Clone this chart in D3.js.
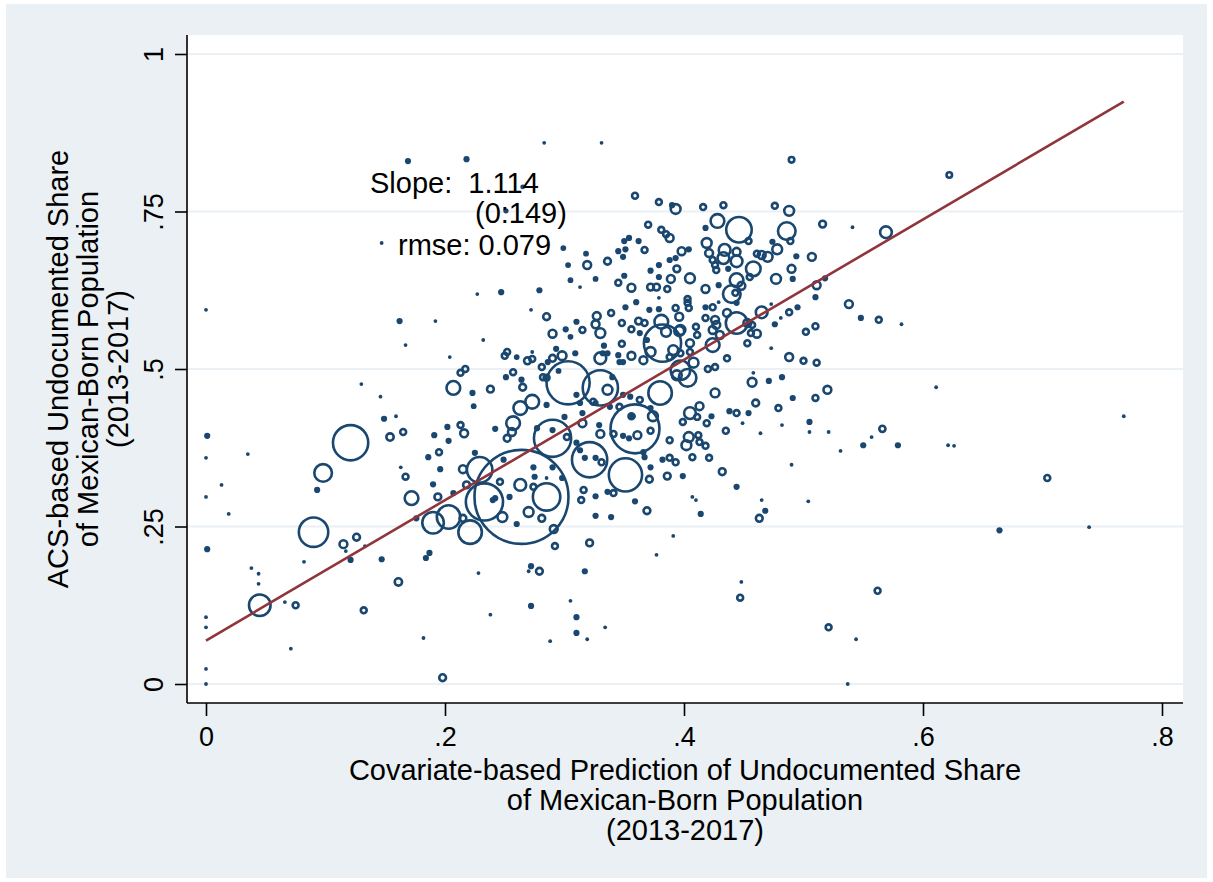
<!DOCTYPE html>
<html>
<head>
<meta charset="utf-8">
<script src="https://cdn.jsdelivr.net/npm/d3@7/dist/d3.min.js"></script>
<style>
  html, body { margin: 0; padding: 0; background: #ffffff; }
  svg { display: block; }
  text { font-family: "Liberation Sans", Arial, Helvetica, sans-serif; fill: #000; }
</style>
</head>
<body>
<svg id="chart" width="1213" height="882"></svg>
<script>
// Axis ticks and titles
const xTicks = [0, 0.2, 0.4, 0.6, 0.8];
const xTickLabels = ["0", ".2", ".4", ".6", ".8"];
const yTicks = [0, 0.25, 0.5, 0.75, 1];
const yTickLabels = ["0", ".25", ".5", ".75", "1"];
const xTitle = ["Covariate-based Prediction of Undocumented Share", "of Mexican-Born Population", "(2013-2017)"];
const yTitle = ["ACS-based Undocumented Share", "of Mexican-Born Population", "(2013-2017)"];

// Weighted least-squares fit
const fitIntercept = 0.069;
const fitSlope = 1.114;
const fitRange = [0, 0.768];
const fitNotes = ["Slope:  1.114", "(0:149)", "rmse: 0.079"];

// Commuting zones: [predicted share, ACS share, Mexican-born population weight]
const lowTail = [
  [0.000,0.594,1.5],[0.001,0.394,6],[0.000,0.359,1.5],[0.035,0.365,1.5],[0.013,0.316,1.5],
  [0.000,0.297,1.5],[0.019,0.270,1.5],[0.001,0.214,6],[0.038,0.184,1.5],[0.044,0.175,1.5],
  [0.044,0.159,1.5],[0.000,0.106,1.5],[0.000,0.090,1.5],[0.071,0.056,1.5],[0.000,0.024,1.5],
  [0.000,0.000,1.5],[0.045,0.125,121],[0.066,0.130,1.5],[0.075,0.125,9],[0.132,0.117,9],
  [0.121,0.383,324],[0.098,0.335,81],[0.093,0.308,6],[0.090,0.241,225],[0.115,0.222,16],
  [0.126,0.233,12],[0.133,0.219,1.5],[0.117,0.211,1.5],[0.121,0.197,6],[0.082,0.194,1.5],
  [0.130,0.476,1.5],[0.146,0.456,1.5],[0.147,0.700,1.5],[0.167,0.538,1.5],[0.162,0.576,6]
];

const topScatter = [
  [0.169,0.830,6],[0.218,0.833,6],[0.283,0.859,1.5],[0.331,0.859,1.5],[0.265,0.789,3],
  [0.251,0.751,4],[0.490,0.832,8],[0.622,0.808,8],[0.299,0.692,5],[0.318,0.683,5],
  [0.319,0.665,16],[0.303,0.665,5],[0.326,0.643,5],[0.305,0.641,5],[0.313,0.630,1.5],
  [0.279,0.625,6],[0.247,0.622,6],[0.227,0.619,1.5],[0.272,0.594,1.5],[0.285,0.583,12],
  [0.310,0.575,6],[0.327,0.584,16],[0.192,0.576,1.5],[0.301,0.563,6],[0.315,0.562,9],
  [0.290,0.556,16],[0.305,0.551,5],[0.232,0.546,1.5],[0.293,0.532,6],[0.309,0.525,6],
  [0.330,0.517,36],[0.252,0.527,9],[0.250,0.521,9],[0.260,0.519,5],[0.273,0.527,1.5],
  [0.269,0.513,12],[0.273,0.516,9],[0.298,0.521,20],[0.290,0.517,12],[0.286,0.511,6],
  [0.204,0.519,1.5],[0.281,0.503,9],[0.295,0.497,5],[0.257,0.495,9],[0.264,0.483,6],
  [0.265,0.471,12],[0.282,0.487,9],[0.285,0.486,9],[0.217,0.500,9],[0.213,0.494,9],
  [0.251,0.487,6],[0.207,0.470,49],[0.238,0.468,12],[0.223,0.462,6],[0.224,0.441,5]
];

const midCluster = [
  [0.273,0.448,49],[0.263,0.438,49],[0.257,0.414,49],[0.256,0.400,16],[0.252,0.390,12],
  [0.285,0.443,6],[0.300,0.424,6],[0.310,0.459,6],[0.313,0.446,6],[0.315,0.430,6],
  [0.315,0.414,16],[0.277,0.406,6],[0.149,0.421,6],[0.159,0.425,1.5],[0.165,0.400,9],
  [0.154,0.392,14],[0.191,0.395,6],[0.202,0.408,6],[0.203,0.386,6],[0.213,0.411,9],
  [0.216,0.398,16],[0.242,0.405,6],[0.195,0.368,9],[0.186,0.360,6],[0.196,0.341,6],
  [0.215,0.341,16],[0.225,0.367,6],[0.163,0.344,1.5],[0.167,0.329,9],[0.190,0.317,6],
  [0.172,0.295,49],[0.194,0.297,12],[0.207,0.303,6],[0.218,0.316,12],[0.229,0.340,169],
  [0.246,0.321,9],[0.249,0.356,6],[0.263,0.316,36],[0.274,0.313,9],[0.275,0.329,6],
  [0.274,0.344,6],[0.285,0.327,1.5],[0.298,0.327,6],[0.290,0.344,6],[0.242,0.295,6],
  [0.240,0.292,6],[0.254,0.297,6],[0.248,0.265,25],[0.260,0.254,6],[0.270,0.273,25],
  [0.281,0.263,12],[0.291,0.246,16],[0.292,0.219,9],[0.314,0.292,9],[0.316,0.308,9],
  [0.215,0.263,12],[0.221,0.241,144],[0.190,0.256,121],[0.203,0.265,144],[0.176,0.263,6],
  [0.184,0.200,6],[0.187,0.208,6],[0.147,0.198,6],[0.272,0.187,6],[0.279,0.179,12],
  [0.270,0.179,1.5],[0.233,0.289,361],[0.264,0.297,2304],[0.285,0.297,196],[0.290,0.390,361],
  [0.321,0.356,324],[0.351,0.332,289],[0.359,0.405,625],[0.303,0.478,484],[0.330,0.470,324],
  [0.290,0.403,6],[0.302,0.392,9],[0.321,0.224,12],[0.317,0.179,6]
];

const lowerScatter = [
  [0.198,0.010,12],[0.182,0.073,1.5],[0.161,0.162,14],[0.228,0.176,1.5],[0.238,0.110,1.5],
  [0.272,0.124,6],[0.305,0.132,1.5],[0.310,0.106,6],[0.310,0.081,6],[0.319,0.071,1.5],
  [0.288,0.068,1.5],[0.334,0.090,1.5],[0.448,0.162,1.5],[0.447,0.137,9],[0.562,0.148,9],
  [0.521,0.090,9],[0.544,0.071,1.5],[0.537,0.000,1.5],[0.391,0.235,1.5],[0.377,0.205,1.5]
];

const rightTail = [
  [0.704,0.327,9],[0.664,0.244,6],[0.739,0.249,1.5],[0.768,0.425,1.5],[0.621,0.379,1.5],
  [0.626,0.378,1.5],[0.579,0.379,6],[0.566,0.405,10],[0.557,0.392,1.5],[0.550,0.379,6],
  [0.531,0.370,1.5],[0.521,0.400,1.5],[0.505,0.416,6],[0.505,0.400,1.5],[0.482,0.411,1.5],
  [0.464,0.398,1.5],[0.449,0.414,1.5],[0.490,0.348,1.5],[0.504,0.290,1.5],[0.465,0.292,1.5],
  [0.468,0.275,6],[0.463,0.263,12],[0.611,0.471,1.5],[0.582,0.571,1.5],[0.563,0.578,9],
  [0.548,0.581,6],[0.538,0.603,16],[0.516,0.730,12],[0.541,0.725,1.5],[0.569,0.717,36],
  [0.520,0.467,16],[0.510,0.454,9],[0.491,0.454,6],[0.479,0.438,9],[0.460,0.446,12],
  [0.457,0.479,20],[0.471,0.481,6],[0.482,0.487,6],[0.458,0.494,1.5],[0.454,0.430,6],
  [0.444,0.430,9],[0.438,0.433,6],[0.435,0.402,9],[0.444,0.313,6],[0.407,0.297,1.5],
  [0.410,0.292,1.5],[0.414,0.270,6],[0.369,0.275,12],[0.359,0.290,6],[0.339,0.265,6],
  [0.326,0.267,6],[0.326,0.298,6],[0.336,0.305,6],[0.341,0.303,9]
];

const coreLower = [
  [0.380,0.462,144],[0.405,0.430,36],[0.413,0.441,16],[0.411,0.424,9],[0.419,0.414,9],
  [0.423,0.425,6],[0.426,0.462,20],[0.399,0.416,9],[0.404,0.392,25],[0.402,0.379,25],
  [0.412,0.395,9],[0.413,0.384,9],[0.418,0.378,9],[0.407,0.360,9],[0.421,0.359,9],
  [0.388,0.387,9],[0.382,0.356,6],[0.388,0.359,9],[0.393,0.352,9],[0.372,0.344,6],
  [0.386,0.330,12],[0.399,0.330,6],[0.371,0.325,12],[0.432,0.337,12],[0.397,0.498,100],
  [0.403,0.486,81],[0.394,0.490,25],[0.374,0.425,25],[0.372,0.438,6],[0.356,0.425,9],
  [0.363,0.451,9],[0.355,0.456,6],[0.349,0.459,6],[0.338,0.440,6],[0.346,0.440,9],
  [0.340,0.487,6],[0.336,0.467,25],[0.324,0.448,9],[0.349,0.394,6],[0.354,0.390,6],
  [0.361,0.395,16],[0.357,0.425,6],[0.372,0.402,9],[0.366,0.368,6],[0.367,0.360,6],
  [0.341,0.397,9],[0.330,0.397,16],[0.326,0.446,6],[0.329,0.411,6],[0.331,0.352,9],
  [0.326,0.359,6],[0.317,0.359,6],[0.310,0.383,6],[0.313,0.371,6]
];

const coreUpper = [
  [0.436,0.517,9],[0.426,0.503,9],[0.420,0.500,9],[0.424,0.538,49],[0.453,0.541,9],
  [0.424,0.562,16],[0.426,0.578,16],[0.418,0.581,9],[0.411,0.554,9],[0.410,0.567,9],
  [0.397,0.562,25],[0.405,0.541,16],[0.408,0.510,25],[0.382,0.541,361],[0.391,0.530,25],
  [0.372,0.527,25],[0.366,0.514,16],[0.444,0.573,121],[0.453,0.573,16],[0.457,0.570,9],
  [0.456,0.557,9],[0.461,0.556,16],[0.465,0.590,36],[0.473,0.603,1.5],[0.481,0.581,1.5],
  [0.488,0.590,9],[0.495,0.598,6],[0.476,0.571,6],[0.502,0.559,9],[0.510,0.568,9],
  [0.473,0.533,1.5],[0.488,0.519,16],[0.500,0.513,9],[0.511,0.510,9],[0.427,0.570,16],
  [0.430,0.554,16],[0.436,0.589,16],[0.440,0.619,81],[0.443,0.621,9],[0.444,0.641,49],
  [0.448,0.632,16],[0.458,0.659,56],[0.455,0.646,9],[0.461,0.683,9],[0.465,0.681,16],
  [0.470,0.678,25],[0.478,0.690,25],[0.474,0.702,6],[0.434,0.689,36],[0.433,0.676,36],
  [0.444,0.671,36],[0.444,0.686,16],[0.419,0.700,25],[0.421,0.684,16],[0.424,0.673,9],
  [0.426,0.665,9],[0.427,0.657,9],[0.418,0.724,6],[0.437,0.659,6],[0.454,0.703,9],
  [0.429,0.606,1.5],[0.444,0.605,6],[0.428,0.735,49],[0.446,0.721,169],[0.486,0.719,81],
  [0.489,0.703,9],[0.494,0.679,6],[0.490,0.659,16],[0.491,0.643,6],[0.477,0.643,25],
  [0.507,0.678,16],[0.511,0.633,16],[0.510,0.614,6],[0.518,0.644,6]
];

const upperCluster = [
  [0.359,0.775,9],[0.379,0.765,9],[0.390,0.760,6],[0.393,0.754,25],[0.416,0.757,9],
  [0.433,0.760,9],[0.476,0.759,9],[0.488,0.751,25],[0.370,0.729,9],[0.381,0.721,9],
  [0.385,0.714,9],[0.388,0.708,16],[0.362,0.703,6],[0.354,0.708,6],[0.350,0.703,6],
  [0.345,0.687,6],[0.349,0.678,6],[0.351,0.690,6],[0.367,0.689,9],[0.336,0.671,12],
  [0.350,0.648,6],[0.345,0.637,9],[0.356,0.629,16],[0.372,0.630,12],[0.377,0.630,12],
  [0.372,0.656,6],[0.379,0.665,6],[0.388,0.673,6],[0.393,0.676,6],[0.398,0.687,16],
  [0.404,0.690,6],[0.394,0.659,12],[0.389,0.643,16],[0.405,0.644,25],[0.379,0.646,6],
  [0.386,0.627,9],[0.379,0.613,1.5],[0.360,0.606,6],[0.351,0.598,6],[0.339,0.589,9],
  [0.326,0.571,16],[0.330,0.557,25],[0.333,0.537,6],[0.332,0.525,6],[0.336,0.525,6],
  [0.348,0.540,9],[0.345,0.522,6],[0.349,0.511,6],[0.346,0.511,6],[0.356,0.521,16],
  [0.362,0.576,12],[0.367,0.573,9],[0.371,0.594,6],[0.379,0.595,6],[0.356,0.563,9],
  [0.363,0.557,6],[0.369,0.546,6],[0.381,0.575,49],[0.385,0.559,25],[0.396,0.560,25],
  [0.393,0.597,9],[0.396,0.583,16],[0.403,0.611,9],[0.403,0.605,9],[0.404,0.597,9],
  [0.418,0.627,16],[0.418,0.598,6],[0.429,0.633,6],[0.424,0.598,9],[0.348,0.573,9],
  [0.388,0.519,9],[0.397,0.525,9],[0.405,0.527,9]
];

const groups = [lowTail, topScatter, midCluster, lowerScatter, rightTail, coreLower, coreUpper, upperCluster];

// Layout
const W = 1213, H = 882;
const plot = { left: 187, top: 35, right: 1183, bottom: 703 };
const navy = "#1a476f";
const maroon = "#90353b";
const panelBg = "#eaf0f3";

const svg = d3.select("#chart");

svg.append("rect").attr("x", 6).attr("y", 4).attr("width", W - 12).attr("height", H - 8)
  .attr("fill", panelBg);
svg.append("rect").attr("x", plot.left).attr("y", plot.top)
  .attr("width", plot.right - plot.left).attr("height", plot.bottom - plot.top)
  .attr("fill", "#ffffff");

const x = d3.scaleLinear().domain([0, 0.8]).range([206, 1162]);
const y = d3.scaleLinear().domain([0, 1]).range([684, 54]);
const r = d3.scaleSqrt().domain([0, 2304]).range([0, 47]);

// Horizontal grid
svg.append("g").selectAll("line").data(yTicks).join("line")
  .attr("x1", plot.left).attr("x2", plot.right)
  .attr("y1", d => y(d)).attr("y2", d => y(d))
  .attr("stroke", panelBg).attr("stroke-width", 2);

// Weighted markers: hollow rings, which close into solid dots at the smallest sizes
const pts = groups.flat();
const small = d => r(d[2]) < 2.6;
svg.append("g").selectAll("circle").data(pts).join("circle")
  .attr("cx", d => x(d[0]))
  .attr("cy", d => y(d[1]))
  .attr("r", d => small(d) ? r(d[2]) + 0.7 : r(d[2]))
  .attr("fill", d => small(d) ? navy : "none")
  .attr("stroke", d => small(d) ? "none" : navy)
  .attr("stroke-width", 2.6);

// Fitted line
svg.append("line")
  .attr("x1", x(fitRange[0])).attr("y1", y(fitIntercept + fitSlope * fitRange[0]))
  .attr("x2", x(fitRange[1])).attr("y2", y(fitIntercept + fitSlope * fitRange[1]))
  .attr("stroke", maroon).attr("stroke-width", 2.6);

// Axes
const yAxis = d3.axisLeft(y).tickValues(yTicks).tickSize(12)
  .tickFormat((d, i) => yTickLabels[i]).tickPadding(12);
const gy = svg.append("g").attr("transform", `translate(${plot.left},0)`).call(yAxis);
gy.select(".domain").attr("d", `M0,${plot.top}V${plot.bottom}`).attr("stroke", "#000").attr("stroke-width", 1.6);
gy.selectAll(".tick line").attr("stroke", "#000").attr("stroke-width", 1.6);
gy.selectAll(".tick text")
  .attr("font-size", 27).attr("font-family", "Liberation Sans, Arial, sans-serif")
  .attr("fill", "#000")
  .attr("text-anchor", "middle").attr("dy", null)
  .attr("x", null)
  .attr("transform", "translate(-24,0) rotate(-90)");

const xAxis = d3.axisBottom(x).tickValues(xTicks).tickSize(13)
  .tickFormat((d, i) => xTickLabels[i]).tickPadding(10);
const gx = svg.append("g").attr("transform", `translate(0,${plot.bottom})`).call(xAxis);
gx.select(".domain").attr("d", `M${plot.left},0H${plot.right}`).attr("stroke", "#000").attr("stroke-width", 1.6);
gx.selectAll(".tick line").attr("stroke", "#000").attr("stroke-width", 1.6);
gx.selectAll(".tick text")
  .attr("font-size", 27).attr("font-family", "Liberation Sans, Arial, sans-serif")
  .attr("fill", "#000").attr("dy", null).attr("y", 43);

// Axis titles
const cx = (plot.left + plot.right) / 2;
svg.append("g").selectAll("text").data(xTitle).join("text")
  .attr("x", cx).attr("y", (d, i) => 780 + i * 30)
  .attr("text-anchor", "middle").attr("font-size", 29).text(d => d);

const cy = (plot.top + plot.bottom) / 2;
svg.append("g").selectAll("text").data(yTitle).join("text")
  .attr("transform", (d, i) => `translate(${68 + i * 30},${cy}) rotate(-90)`)
  .attr("text-anchor", "middle").attr("font-size", 29).text(d => d);

// Fit annotation
const notePos = [[370, 193], [475, 223], [398, 255]];
svg.append("g").selectAll("text").data(fitNotes).join("text")
  .attr("x", (d, i) => notePos[i][0]).attr("y", (d, i) => notePos[i][1])
  .attr("font-size", 29).style("white-space", "pre").text(d => d);
</script>
</body>
</html>
